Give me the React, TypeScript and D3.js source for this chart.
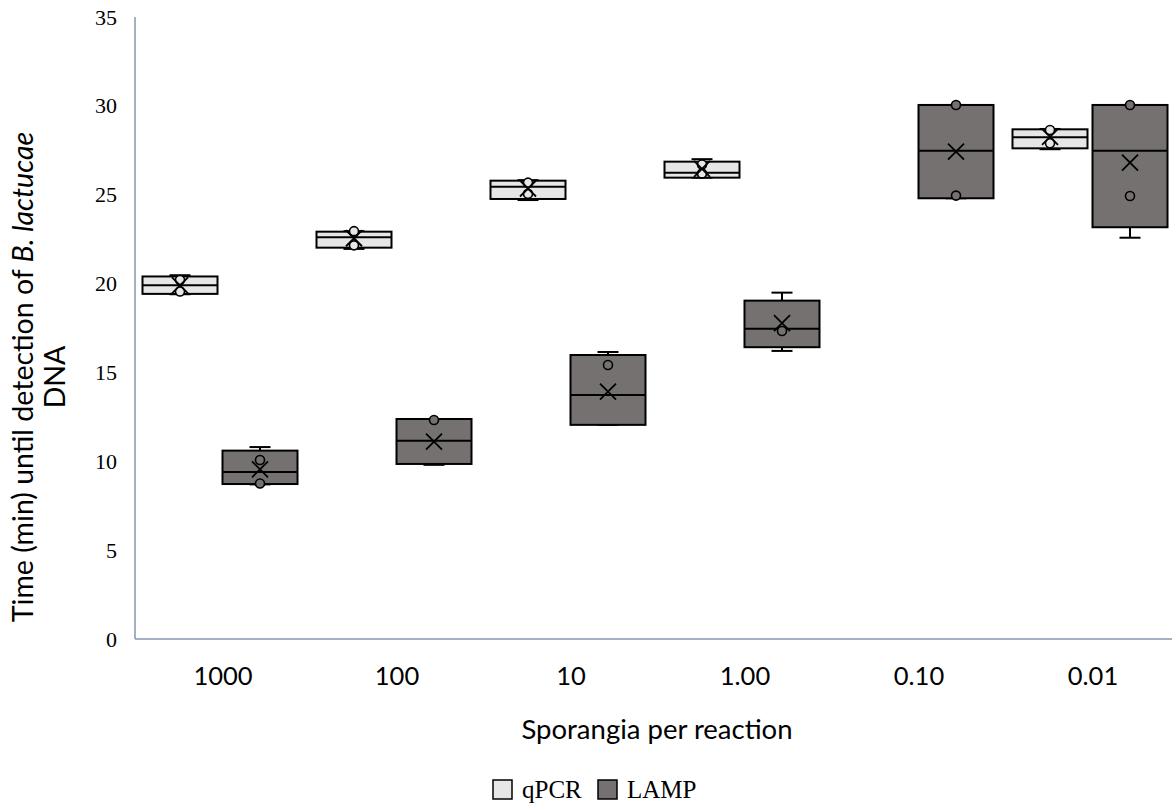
import React from "react";
import * as d3 from "d3";

const categories = ["1000", "100", "10", "1.00", "0.10", "0.01"];
const seriesNames = ["qPCR", "LAMP"];
const seriesFill = ["#e7e6e6", "#767171"];

// qPCR statistics (null = no data)
const qpcrMin = [19.4, 21.95, 24.7, 25.96, null, 27.56];
const qpcrQ1 = [19.42, 22.02, 24.76, 25.96, null, 27.61];
const qpcrMedian = [19.9, 22.6, 25.45, 26.24, null, 28.23];
const qpcrQ3 = [20.4, 22.92, 25.79, 26.86, null, 28.68];
const qpcrMax = [20.47, 22.95, 25.82, 27.0, null, 28.7];
const qpcrMean = [19.9, 22.55, 25.35, 26.45, null, 28.25];
const qpcrPoints = [[20.2, 19.55], [22.95, 22.15], [25.68, 25.05], [26.7, 26.2], [], [28.64, 27.9]];

// LAMP statistics
const lampMin = [8.7, 9.8, 12.05, 16.21, 24.8, 22.58];
const lampQ1 = [8.72, 9.85, 12.05, 16.42, 24.8, 23.17];
const lampMedian = [9.4, 11.16, 13.73, 17.46, 27.48, 27.48];
const lampQ3 = [10.6, 12.38, 15.98, 19.04, 30.05, 30.05];
const lampMax = [10.8, 12.38, 16.15, 19.49, 30.05, 30.05];
const lampMean = [9.55, 11.1, 13.92, 17.77, 27.42, 26.8];
const lampPoints = [[10.07, 8.75], [12.32], [15.42], [17.33], [30.05, 24.95], [30.05, 24.93]];

const yTicks = [0, 5, 10, 15, 20, 25, 30, 35];

const W = 1172;
const H = 807;
const axisColor = "#8497b0";
const serif = "'Liberation Serif', 'DejaVu Serif', serif";
const sans = "Lato, 'Open Sans', sans-serif";

type Stat = {
  cat: string;
  series: number;
  min: number;
  q1: number;
  median: number;
  q3: number;
  max: number;
  mean: number;
  points: number[];
};

function buildStats(): Stat[] {
  const out: Stat[] = [];
  const all = [
    [qpcrMin, qpcrQ1, qpcrMedian, qpcrQ3, qpcrMax, qpcrMean, qpcrPoints],
    [lampMin, lampQ1, lampMedian, lampQ3, lampMax, lampMean, lampPoints],
  ] as any[];
  categories.forEach((cat, i) => {
    all.forEach((s, si) => {
      if (s[2][i] == null) return;
      out.push({
        cat,
        series: si,
        min: s[0][i],
        q1: s[1][i],
        median: s[2][i],
        q3: s[3][i],
        max: s[4][i],
        mean: s[5][i],
        points: s[6][i],
      });
    });
  });
  return out;
}

export default function App() {
  const plotLeft = 135;
  const x0 = d3.scaleBand<string>().domain(categories).range([133, 133 + 6 * 174]);
  const x1 = d3
    .scaleBand<string>()
    .domain(seriesNames)
    .range([0, x0.bandwidth()])
    .paddingInner(0.0625)
    .paddingOuter(0.11875);
  const y = d3.scaleLinear().domain([0, 35]).range([639, 17]);
  const stats = buildStats();
  const bw = x1.bandwidth();
  const capW = 21;
  const xs = 8;

  return (
    <svg
      width={W}
      height={H}
      style={{ position: "absolute", left: 0, top: 0, background: "#fff" }}
    >
      {/* axes */}
      <line x1={plotLeft} x2={plotLeft} y1={y(35)} y2={y(0)} stroke={axisColor} strokeWidth={1.5} />
      <line x1={plotLeft} x2={W} y1={y(0)} y2={y(0)} stroke={axisColor} strokeWidth={1.5} />

      {yTicks.map((t) => (
        <text
          key={t}
          x={117}
          y={y(t)}
          textAnchor="end"
          dominantBaseline="central"
          fontFamily={serif}
          fontSize={22}
          fill="#000"
        >
          {t}
        </text>
      ))}

      {categories.map((c) => (
        <text
          key={c}
          x={(x0(c) as number) + x0.bandwidth() / 2 + 3}
          y={685}
          textAnchor="middle"
          fontFamily={sans}
          fontSize={25.5}
          fill="#000"
        >
          {c}
        </text>
      ))}

      <text x={657} y={739} textAnchor="middle" fontFamily={sans} fontSize={27.5} fill="#000">
        Sporangia per reaction
      </text>

      <g transform={`translate(33, 377) rotate(-90)`}>
        <text x={0} y={0} textAnchor="middle" fontFamily={sans} fontSize={28.5} fill="#000">
          Time (min) until detection of <tspan fontStyle="italic">B. lactucae</tspan>
        </text>
        <text x={0} y={32} textAnchor="middle" fontFamily={sans} fontSize={28.5} fill="#000">
          DNA
        </text>
      </g>

      {/* boxes */}
      {stats.map((s, i) => {
        const cx = (x0(s.cat) as number) + (x1(seriesNames[s.series]) as number) + bw / 2;
        const left = cx - bw / 2;
        const fill = seriesFill[s.series];
        return (
          <g key={i}>
            <line x1={cx} x2={cx} y1={y(s.q3)} y2={y(s.max)} stroke="#000" strokeWidth={2} />
            <line x1={cx - capW / 2} x2={cx + capW / 2} y1={y(s.max)} y2={y(s.max)} stroke="#000" strokeWidth={2} />
            <line x1={cx} x2={cx} y1={y(s.q1)} y2={y(s.min)} stroke="#000" strokeWidth={2} />
            <line x1={cx - capW / 2} x2={cx + capW / 2} y1={y(s.min)} y2={y(s.min)} stroke="#000" strokeWidth={2} />
            <rect
              x={left}
              y={y(s.q3)}
              width={bw}
              height={y(s.q1) - y(s.q3)}
              fill={fill}
              stroke="#000"
              strokeWidth={2}
            />
            <line x1={left} x2={left + bw} y1={y(s.median)} y2={y(s.median)} stroke="#000" strokeWidth={2} />
            {s.points.map((p, j) => (
              <circle key={j} cx={cx} cy={y(p)} r={4.5} fill={fill} stroke="#000" strokeWidth={1.6} />
            ))}
            <path
              d={`M${cx - xs},${y(s.mean) - xs}L${cx + xs},${y(s.mean) + xs}M${cx - xs},${y(s.mean) + xs}L${cx + xs},${y(s.mean) - xs}`}
              stroke="#000"
              strokeWidth={1.8}
              fill="none"
            />
          </g>
        );
      })}

      {/* legend */}
      <rect x={493} y={780} width={19} height={19} fill={seriesFill[0]} stroke="#000" strokeWidth={1.5} />
      <text x={522} y={798} fontFamily={serif} fontSize={25} fill="#000">
        qPCR
      </text>
      <rect x={598} y={780} width={19} height={19} fill={seriesFill[1]} stroke="#000" strokeWidth={1.5} />
      <text x={627} y={798} fontFamily={serif} fontSize={25} fill="#000">
        LAMP
      </text>
    </svg>
  );
}
